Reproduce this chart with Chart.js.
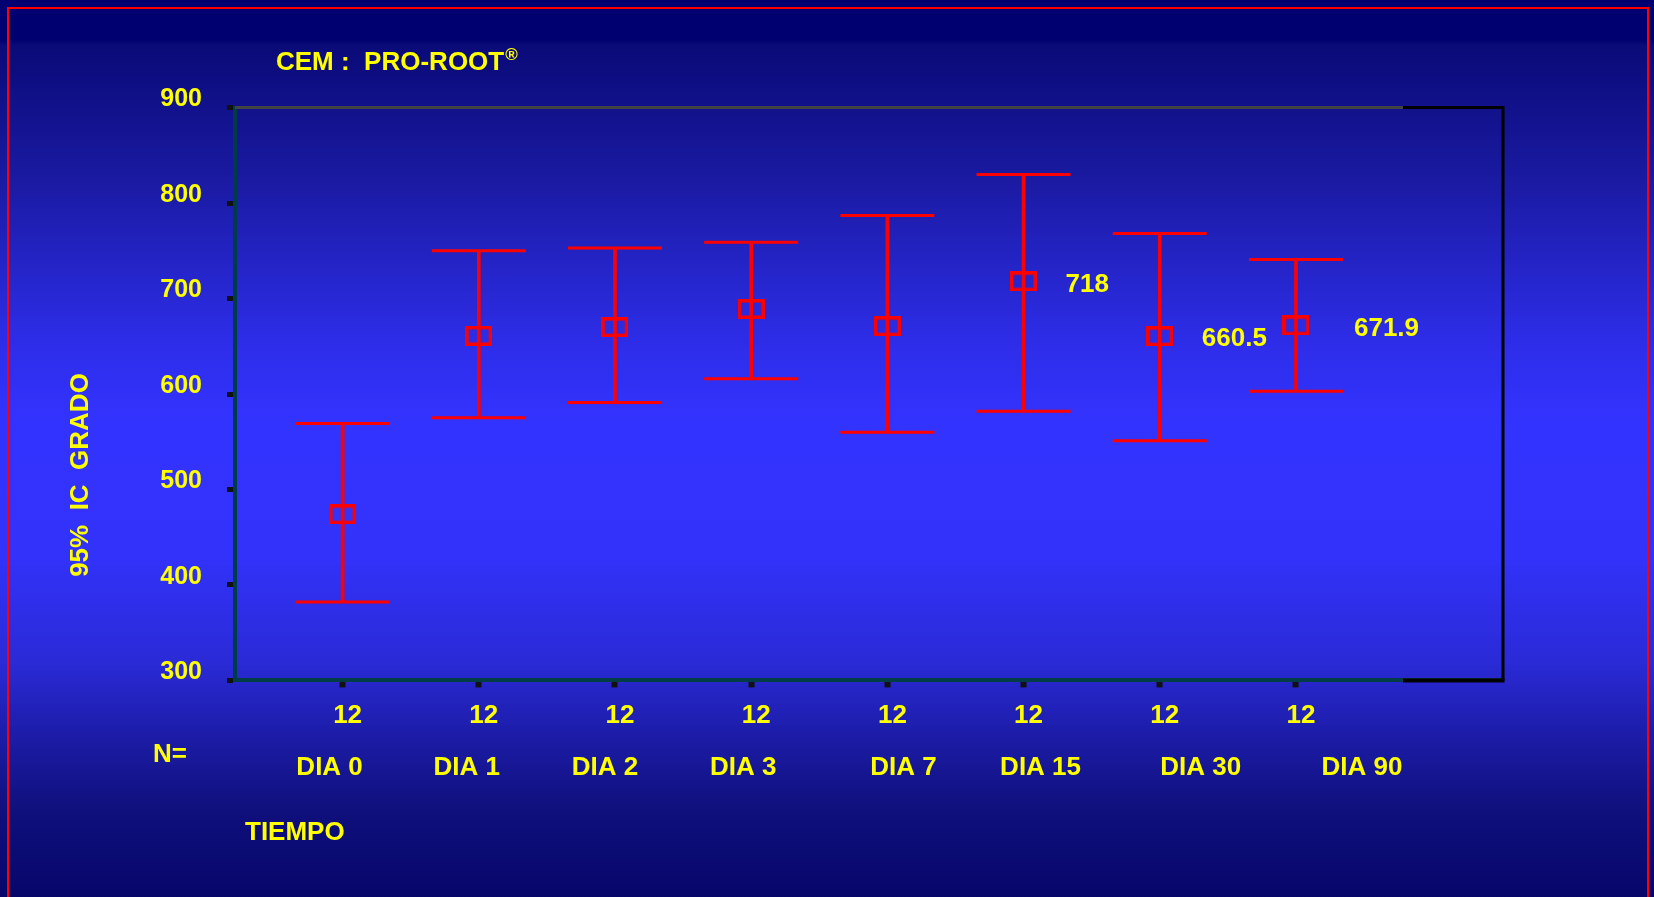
<!DOCTYPE html>
<html>
<head>
<meta charset="utf-8">
<script src="https://cdn.jsdelivr.net/npm/chart.js@4.4.0/dist/chart.umd.min.js"></script>
<style>
  html, body { margin: 0; padding: 0; background: #00006e; }
</style>
</head>
<body>
<canvas id="myChart" width="1654" height="897"></canvas>
<script>
const categories = ['DIA 0', 'DIA 1', 'DIA 2', 'DIA 3', 'DIA 7', 'DIA 15', 'DIA 30', 'DIA 90']
const nValues = [12, 12, 12, 12, 12, 12, 12, 12]
const means = [474, 661, 670, 689, 671, 718, 660.5, 671.9]
const lower = [382, 575, 591, 616, 560, 582, 551, 603]
const upper = [569, 750, 753, 759, 787, 830, 768, 741]
const labelledMeans = [false, false, false, false, false, true, true, true]
const yTicks = [300, 400, 500, 600, 700, 800, 900]

const yellow = '#ffff00'
const red = '#ff0000'
const family = '"Liberation Sans", Arial, sans-serif'
const font = (size) => `bold ${size}px ${family}`
// the day names sit a bit off their ticks in the original slide
const dayShift = [-13, -12, -10, -8, 16, 17, 41, 66]

// little open red box for the mean marker
const box = document.createElement('canvas')
box.width = 27
box.height = 20
const bctx = box.getContext('2d')
bctx.strokeStyle = red
bctx.lineWidth = 3.5
bctx.strokeRect(1.75, 1.75, 23.5, 16.5)

const backdrop = {
  id: 'backdrop',
  beforeDraw(chart) {
    const { ctx, width, height } = chart
    const g = ctx.createLinearGradient(0, 0, 0, height)
    g.addColorStop(0, '#000070')
    g.addColorStop(0.045, '#000070')
    g.addColorStop(0.05, '#0a0a78')
    g.addColorStop(0.2, '#1a1aa2')
    g.addColorStop(0.38, '#2d2de8')
    g.addColorStop(0.47, '#3333ff')
    g.addColorStop(0.62, '#3232fa')
    g.addColorStop(0.74, '#2a2ad6')
    g.addColorStop(0.82, '#1c1ca8')
    g.addColorStop(0.9, '#10107e')
    g.addColorStop(1, '#06066a')
    ctx.save()
    ctx.fillStyle = g
    ctx.fillRect(0, 0, width, height)
    ctx.strokeStyle = red
    ctx.lineWidth = 2
    ctx.strokeRect(8, 8, width - 14, height + 20)
    ctx.restore()
  }
}

const decorations = {
  id: 'decorations',
  afterDraw(chart) {
    const { ctx, chartArea } = chart
    const xs = chart.scales.x
    const ys = chart.scales.y
    const { left, right, top, bottom } = chartArea
    const split = 1403
    ctx.save()

    // frame
    ctx.lineWidth = 3
    ctx.strokeStyle = '#444444'
    ctx.beginPath(); ctx.moveTo(left, top); ctx.lineTo(split, top); ctx.stroke()
    ctx.strokeStyle = '#000000'
    ctx.beginPath(); ctx.moveTo(split, top); ctx.lineTo(right, top); ctx.lineTo(right, bottom); ctx.stroke()
    ctx.lineWidth = 4
    ctx.beginPath(); ctx.moveTo(split, bottom); ctx.lineTo(right + 1.5, bottom); ctx.stroke()

    ctx.fillStyle = yellow
    ctx.textBaseline = 'middle'

    // title
    ctx.textAlign = 'left'
    ctx.font = font(26)
    const t = 'CEM :  PRO-ROOT'
    ctx.fillText(t, 276, 63)
    const tw = ctx.measureText(t).width
    ctx.font = font(17)
    ctx.fillText('®', 276 + tw + 1, 55)

    // y axis title
    ctx.save()
    ctx.translate(81, 475)
    ctx.rotate(-Math.PI / 2)
    ctx.textAlign = 'center'
    ctx.font = font(26)
    ctx.fillText('95%  IC  GRADO', 0, 0)
    ctx.restore()

    // N row and day names
    ctx.font = font(26)
    ctx.textAlign = 'center'
    categories.forEach((c, i) => {
      const px = xs.getPixelForValue(i)
      ctx.fillText(String(nValues[i]), px + 5, 716)
      ctx.fillText(c, px + dayShift[i], 768)
    })
    ctx.textAlign = 'left'
    ctx.fillText('N=', 153, 755)
    ctx.fillText('TIEMPO', 245, 833)

    // mean value labels
    means.forEach((m, i) => {
      if (!labelledMeans[i]) return
      const nudge = i === categories.length - 1 ? 58 : 42
      ctx.fillText(String(m), xs.getPixelForValue(i) + nudge, ys.getPixelForValue(m) + 3)
    })
    ctx.restore()
  }
}

const setGraph = () => {
  const dataConfig = {
    datasets: [
      {
        type: 'bar',
        data: categories.map((c, i) => ({ x: i, y: [lower[i], upper[i]] })),
        backgroundColor: red,
        borderWidth: 0,
        barThickness: 3
      },
      {
        type: 'scatter',
        data: categories.flatMap((c, i) => [{ x: i, y: lower[i] }, { x: i, y: upper[i] }]),
        pointStyle: 'line',
        pointRadius: 47,
        pointBorderWidth: 3,
        pointBorderColor: red,
        pointBackgroundColor: red
      },
      {
        type: 'scatter',
        data: categories.map((c, i) => ({ x: i, y: means[i] })),
        pointStyle: box,
        pointRadius: 13
      }
    ]
  }

  const config = {
    type: 'scatter',
    data: dataConfig,
    plugins: [backdrop, decorations],
    options: {
      responsive: false,
      animation: false,
      layout: { padding: { left: 0, right: 151, top: 107.6, bottom: 0 } },
      plugins: { legend: { display: false }, tooltip: { enabled: false } },
      scales: {
        x: {
          type: 'linear',
          min: -0.79,
          max: 8.52,
          offset: false,
          afterFit: (scale) => { scale.height = 216.6 },
          afterBuildTicks: (axis) => { axis.ticks = categories.map((c, i) => ({ value: i })) },
          ticks: { display: false },
          grid: { offset: false, drawOnChartArea: false, tickLength: 7, tickWidth: 6, tickColor: '#111111' },
          border: { color: '#003c46', width: 4 }
        },
        y: {
          min: 300,
          max: 900,
          afterFit: (scale) => { scale.width = 235 },
          afterBuildTicks: (axis) => { axis.ticks = yTicks.map((v) => ({ value: v })) },
          ticks: {
            color: yellow,
            font: { family: family, size: 25, weight: 'bold' },
            padding: 25,
            labelOffset: -8
          },
          grid: { drawOnChartArea: false, tickLength: 8, tickWidth: 5, tickColor: '#111111' },
          border: { color: '#003c46', width: 4 }
        }
      }
    }
  }

  const myChart = new Chart(document.getElementById('myChart'), config)
}

setGraph()
</script>
</body>
</html>
